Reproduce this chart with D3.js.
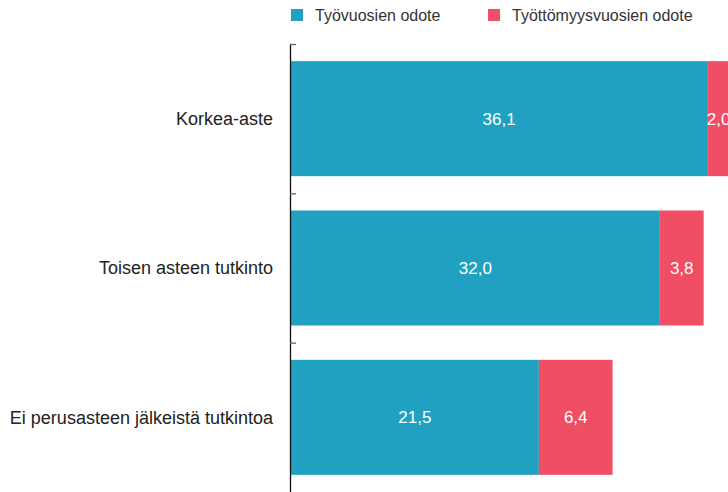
<!DOCTYPE html>
<html>
    <head>
        <meta charset="utf-8">
        <style>
            body { margin: 0; background: #fff; }
            svg { display: block; font-family: "Liberation Sans", Arial, sans-serif; }
        </style>
    </head>
    <body>
        <svg></svg>

        <script src="https://d3js.org/d3.v7.min.js"></script>

        <script>
            const categories = ["Korkea-aste", "Toisen asteen tutkinto", "Ei perusasteen jälkeistä tutkintoa"];
            const series = ["Työvuosien odote", "Työttömyysvuosien odote"];
            const work = [36.1, 32.0, 21.5];
            const unemployment = [2.0, 3.8, 6.4];

            const colors = ["#21a1c1", "#f04e64"];

            const width = 728,
                height = 492;

            const svg = d3.select("svg")
                        .attr("width", width)
                        .attr("height", height);

            const x = d3.scaleLinear()
                        .domain([0, 38])
                        .range([291, 729]);

            const y = d3.scaleBand()
                        .domain(categories)
                        .range([44, 492])
                        .paddingInner(0.23)
                        .paddingOuter(0.115);

            // stack the two series per category
            const rows = categories.map(function(c, i) {
                return { cat: c, values: [work[i], unemployment[i]] };
            });

            const g = svg.selectAll("g.row")
                        .data(rows)
                        .enter()
                        .append("g")
                        .attr("class", "row");

            g.each(function(d) {
                let start = 0;
                const row = d3.select(this);
                d.values.forEach(function(v, j) {
                    const x0 = x(start), x1 = x(start + v);
                    row.append("rect")
                        .attr("x", x0)
                        .attr("y", y(d.cat))
                        .attr("width", x1 - x0)
                        .attr("height", y.bandwidth())
                        .attr("fill", colors[j]);
                    row.append("text")
                        .attr("x", (x0 + x1) / 2)
                        .attr("y", y(d.cat) + y.bandwidth() / 2)
                        .attr("dy", ".35em")
                        .attr("text-anchor", "middle")
                        .attr("fill", "#fff")
                        .attr("font-size", 17)
                        .text(d3.format(".1f")(v).replace(".", ","));
                    start += v;
                });
            });

            // category labels
            svg.selectAll("text.cat")
                .data(categories)
                .enter()
                .append("text")
                .attr("class", "cat")
                .attr("x", 273)
                .attr("y", function(d) { return y(d) + y.bandwidth() / 2; })
                .attr("dy", ".35em")
                .attr("text-anchor", "end")
                .attr("fill", "#222")
                .attr("font-size", 18)
                .text(function(d) { return d; });

            // axis line and boundary ticks
            svg.append("line")
                .attr("x1", 290.5).attr("x2", 290.5)
                .attr("y1", 44).attr("y2", height)
                .attr("stroke", "#111")
                .attr("stroke-width", 1.3);

            svg.selectAll("line.tick")
                .data(d3.range(categories.length))
                .enter()
                .append("line")
                .attr("class", "tick")
                .attr("x1", 290).attr("x2", 296)
                .attr("y1", function(i) { return 44.5 + i * y.step(); })
                .attr("y2", function(i) { return 44.5 + i * y.step(); })
                .attr("stroke", "#666")
                .attr("stroke-width", 1.3);

            // legend
            const legendX = [291, 488];
            const lg = svg.selectAll("g.legend")
                        .data(series)
                        .enter()
                        .append("g")
                        .attr("class", "legend")
                        .attr("transform", function(d, i) { return "translate(" + legendX[i] + ",9)"; });

            lg.append("rect")
                .attr("width", 12)
                .attr("height", 12)
                .attr("fill", function(d, i) { return colors[i]; });

            lg.append("text")
                .attr("x", 24)
                .attr("y", 6)
                .attr("dy", ".35em")
                .attr("fill", "#333")
                .attr("font-size", 16)
                .text(function(d) { return d; });

        </script>
    </body>
</html>
